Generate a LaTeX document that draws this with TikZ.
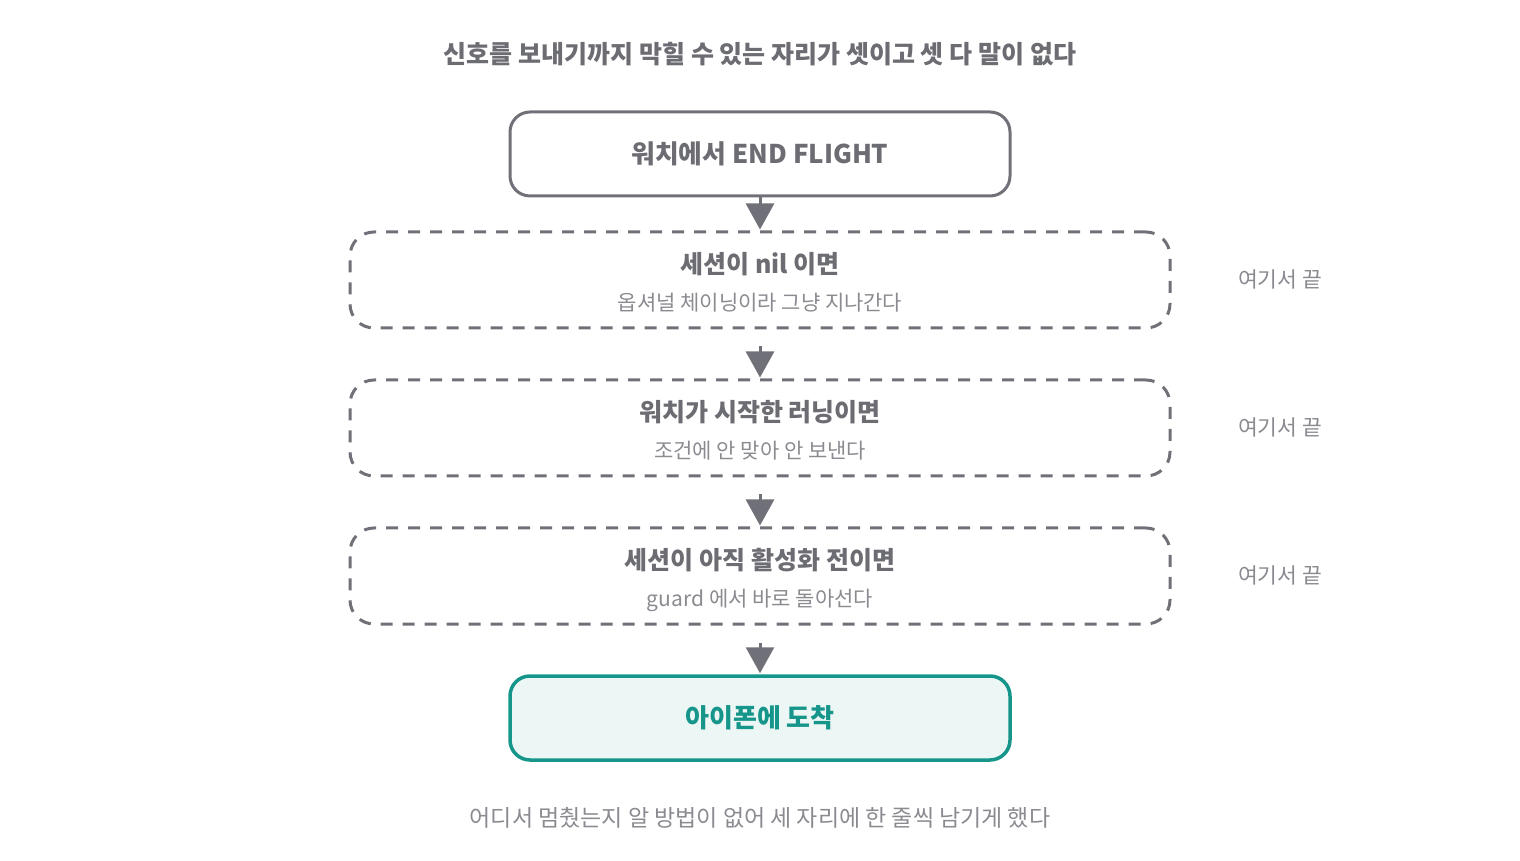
\documentclass[tikz,border=0pt]{standalone}
\usepackage{fontspec}
\setmainfont{Noto Sans CJK KR}
\usetikzlibrary{arrows.meta,positioning}
\definecolor{edgegray}{HTML}{707078}
\definecolor{titlegray}{HTML}{6C6C73}
\definecolor{subgray}{HTML}{8A8A90}
\definecolor{teal}{HTML}{16968A}
\definecolor{tealfill}{HTML}{ECF6F4}
\tikzset{
  solidbox/.style={draw=edgegray, line width=3pt, rounded corners=20pt, minimum width=500pt, minimum height=84pt, inner sep=0pt},
  dashbox/.style={draw=edgegray, line width=3pt, rounded corners=24pt, minimum width=820pt, minimum height=96pt, inner sep=0pt, dash pattern=on 12pt off 10pt},
  endbox/.style={draw=teal, fill=tealfill, line width=3.5pt, rounded corners=20pt, minimum width=500pt, minimum height=84pt, inner sep=0pt},
  boldtxt/.style={font=\fontsize{25}{29}\selectfont\bfseries, text=titlegray},
  subtxt/.style={font=\fontsize{21}{25}\selectfont, text=subgray},
  sidetxt/.style={font=\fontsize{21.5}{25}\selectfont, text=subgray},
  arr/.style={draw=edgegray, line width=3pt, -{Triangle[width=28pt,length=26pt]}},
}
\begin{document}
\begin{tikzpicture}[x=1pt,y=1pt]
\useasboundingbox (0,0) rectangle (1520,860);
\node[font=\fontsize{25}{29}\selectfont\bfseries, text=titlegray] (title) at (760,806) {신호를 보내기까지 막힐 수 있는 자리가 셋이고 셋 다 말이 없다};
\node[solidbox] (start) at (760,706) {};
\node[boldtxt, font=\fontsize{25.8}{30}\selectfont\bfseries] (starttxt) at (760,706) {워치에서 END FLIGHT};

\node[dashbox] (d1) at (760,580) {};
\node[boldtxt] (d1t) at (760,596) {세션이 nil 이면};
\node[subtxt] (d1s) at (760,557) {옵셔널 체이닝이라 그냥 지나간다};
\node[sidetxt] (e1) at (1280,581) {여기서 끝};

\node[dashbox] (d2) at (760,432) {};
\node[boldtxt] (d2t) at (760,448) {워치가 시작한 러닝이면};
\node[subtxt] (d2s) at (760,409) {조건에 안 맞아 안 보낸다};
\node[sidetxt] (e2) at (1280,433) {여기서 끝};

\node[dashbox] (d3) at (760,284) {};
\node[boldtxt] (d3t) at (760,300) {세션이 아직 활성화 전이면};
\node[subtxt] (d3s) at (760,260) {guard 에서 바로 돌아선다};
\node[sidetxt] (e3) at (1280,285) {여기서 끝};

\node[endbox] (fin) at (760,142) {};
\node[font=\fontsize{26}{30}\selectfont\bfseries, text=teal] (fintxt) at (760,142) {아이폰에 도착};

\node[font=\fontsize{23}{27}\selectfont, text=subgray] (foot) at (760,42) {어디서 멈췄는지 알 방법이 없어 세 자리에 한 줄씩 남기게 했다};

\draw[arr, shorten >=1pt] (start.south) -- (d1.north);
\draw[arr, shorten <=17pt, shorten >=1pt] (d1.south) -- (d2.north);
\draw[arr, shorten <=17pt, shorten >=1pt] (d2.south) -- (d3.north);
\draw[arr, shorten <=17pt, shorten >=1pt] (d3.south) -- (fin.north);
\end{tikzpicture}
\end{document}
